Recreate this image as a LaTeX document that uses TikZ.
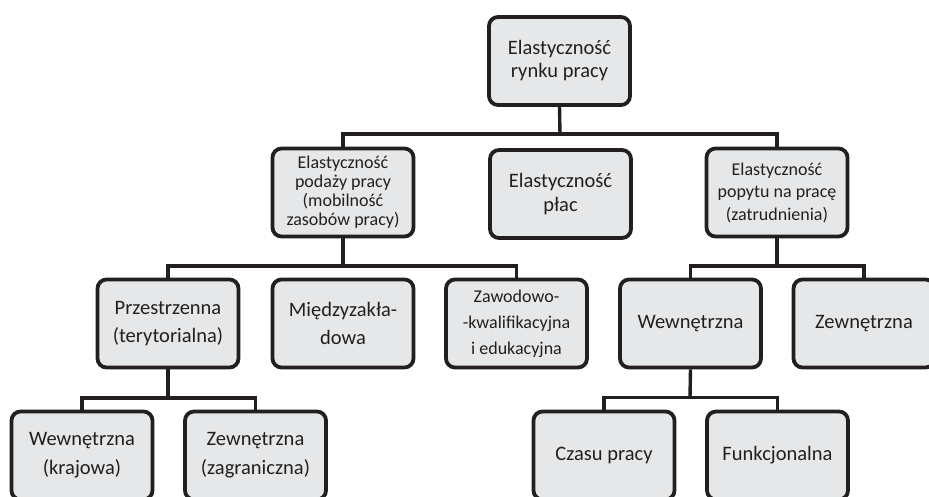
\documentclass[tikz,border=0pt]{standalone}
\usepackage{fontspec}
\setmainfont{Carlito}
\definecolor{ink}{HTML}{231F20}
\definecolor{boxfill}{HTML}{E6E7E8}
\tikzset{
  box/.style={draw=ink, fill=boxfill, line width=3.8pt, rounded corners=9pt,
    minimum width=141pt, minimum height=88pt, align=center, text=ink,
    inner sep=2pt},
  big/.style={font=\fontsize{20.5}{#1}\selectfont},
  small/.style={font=\fontsize{18}{#1}\selectfont},
  link/.style={draw=ink, line width=3.4pt}
}
\begin{document}
\begin{tikzpicture}[x=1pt, y=-1pt]
\useasboundingbox (0,0) rectangle (929,496);
\clip (0,0) rectangle (929,496);

% level 0
\node[box, big=23pt] (top) at (559.5,61) {Elastyczność\\rynku pracy};

% level 1
\node[box, small=19pt] (pod) at (343,192.5) {Elastyczność\\podaży pracy\\(mobilność\\zasobów pracy)};
\node[box, big=24pt] (plac) at (560.5,194) {Elastyczność\\płac};
\node[box, small=22.5pt] (pop) at (777,192.5) {Elastyczność\\popytu na pracę\\(zatrudnienia)};

% level 2
\node[box, big=28pt] (prz) at (168,323.5) {Przestrzenna\\(terytorialna)};
\node[box, big=28pt] (mie) at (343,323.5) {Międzyzakła-\\dowa};
\node[box, small=26pt] (zaw) at (516.5,323.5) {Zawodowo-\\-kwalifikacyjna\\i edukacyjna};
\node[box, big=28pt] (wew) at (690.5,323.5) {Wewnętrzna};
\node[box, big=28pt] (zew) at (864,323.5) {Zewnętrzna};

% level 3
\node[box, big=29pt] (krj) at (82,455.5) {Wewnętrzna\\(krajowa)};
\node[box, big=29pt] (zag) at (255.5,455.5) {Zewnętrzna\\(zagraniczna)};
\node[box, big=29pt] (czas) at (604,455.5) {Czasu pracy};
\node[box, big=29pt] (fun) at (777.5,455.5) {Funkcjonalna};

% junctions on the horizontal buses
\coordinate (j1) at (560,134);
\coordinate (j2) at (343,266);
\coordinate (j3) at (777,266);
\coordinate (j4) at (168,398);
\coordinate (j5) at (690,397.5);

% connectors
\draw[link] (top.south) -- (j1);
\draw[link] (pod.north) |- (j1) -| (pop.north);
\draw[link] (pod.south) -- (j2);
\draw[link] (prz.north) |- (j2) -| (zaw.north);
\draw[link] (pop.south) -- (j3);
\draw[link] (wew.north) |- (j3) -| (zew.north);
\draw[link] (prz.south) -- (j4);
\draw[link] (krj.north) |- (j4) -| (zag.north);
\draw[link] (wew.south) -- (j5);
\draw[link] (czas.north) |- (j5) -| (fun.north);
\end{tikzpicture}
\end{document}
